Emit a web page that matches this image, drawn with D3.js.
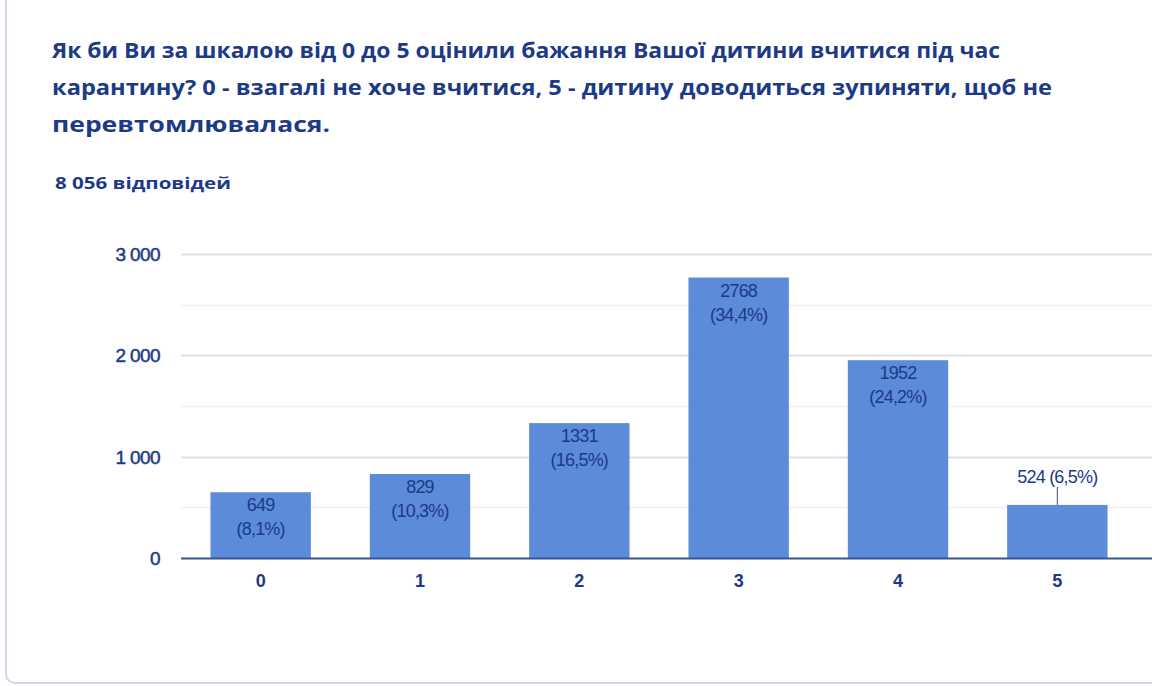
<!DOCTYPE html>
<html><head><meta charset="utf-8">
<script src="https://cdn.jsdelivr.net/npm/d3@7"></script>
<style>html,body{margin:0;padding:0;background:#fff;overflow:hidden}</style>
</head><body>
<svg id="c" width="1152" height="686"></svg>
<script>
const titleLines = [
  "Як би Ви за шкалою від 0 до 5 оцінили бажання Вашої дитини вчитися під час",
  "карантину? 0 - взагалі не хоче вчитися, 5 - дитину доводиться зупиняти, щоб не",
  "перевтомлювалася."
];
const subtitle = "8 056 відповідей";
const categories = ["0", "1", "2", "3", "4", "5"];
const counts = [649, 829, 1331, 2768, 1952, 524];
const percents = ["8,1%", "10,3%", "16,5%", "34,4%", "24,2%", "6,5%"];
const yTicks = [0, 1000, 2000, 3000];
const yTickLabels = ["0", "1 000", "2 000", "3 000"];

const navy = "#1d3a87";
const svg = d3.select("#c");
const tfont = "'Open Sans', 'Noto Sans', sans-serif";
const cfont = "'Liberation Sans', Arial, sans-serif";

// card
svg.append("rect").attr("x", 6).attr("y", -20).attr("width", 1200).attr("height", 703)
  .attr("rx", 9).attr("fill", "#fff").attr("stroke", "#cdd6ea").attr("stroke-width", 2);

// title
const tW = [948, 1000, 278];
titleLines.forEach((t, i) => {
  svg.append("text").attr("x", 52).attr("y", 58 + i * 37).text(t)
    .attr("font-family", tfont).attr("font-weight", 700).attr("font-size", 20.5)
    .attr("fill", navy).attr("textLength", tW[i]).attr("lengthAdjust", "spacingAndGlyphs");
});
svg.append("text").attr("x", 55).attr("y", 189).text(subtitle)
  .attr("font-family", tfont).attr("font-weight", 700).attr("font-size", 15.5)
  .attr("fill", navy).attr("textLength", 176).attr("lengthAdjust", "spacingAndGlyphs");

// scales
const x = d3.scaleBand().domain(categories).range([181, 1137]).paddingInner(0.37).paddingOuter(0.185);
const y = d3.scaleLinear().domain([0, 3000]).range([558, 254]);

const g = svg.append("g");
// gridlines (major + minor)
const grid = d3.range(500, 3001, 500);
g.selectAll(".grid").data(grid).join("line")
  .attr("x1", 181).attr("x2", 1152)
  .attr("y1", d => Math.round(y(d)) + 0.5).attr("y2", d => Math.round(y(d)) + 0.5)
  .attr("stroke", d => d % 1000 === 0 ? "#dde1e9" : "#eef0f4").attr("stroke-width", d => d % 1000 === 0 ? 2 : 1.5);

// y axis labels
const yAxis = d3.axisLeft(y).tickValues(yTicks).tickFormat((d, i) => yTickLabels[i]).tickSize(0).tickPadding(0);
const ya = svg.append("g").attr("transform", "translate(160,0)").call(yAxis);
ya.select(".domain").remove();
ya.selectAll("text").attr("font-family", cfont).attr("font-weight", 400).attr("font-size", 19)
  .attr("fill", navy).attr("stroke", navy).attr("stroke-width", 0.5).attr("dy", "0.35em")
  .attr("letter-spacing", -0.6);

// bars
g.selectAll(".bar").data(counts).join("rect")
  .attr("x", (d, i) => x(categories[i])).attr("width", x.bandwidth())
  .attr("y", d => y(d)).attr("height", d => y(0) - y(d)).attr("fill", "#5b8bd9");

// zero line
svg.append("line").attr("x1", 181).attr("x2", 1152).attr("y1", 558.5).attr("y2", 558.5)
  .attr("stroke", "#34559a").attr("stroke-width", 2);

// x axis
const xAxis = d3.axisBottom(x).tickSize(0).tickPadding(0);
const xa = svg.append("g").attr("transform", "translate(0,587)").call(xAxis);
xa.select(".domain").remove();
xa.selectAll("text").attr("font-family", cfont).attr("font-weight", 700).attr("font-size", 18)
  .attr("fill", navy).attr("dy", 0);

// labels
counts.forEach((d, i) => {
  const cx = x(categories[i]) + x.bandwidth() / 2;
  const top = y(d);
  const lab = (s, yy) => svg.append("text").attr("x", cx).attr("y", yy).attr("text-anchor", "middle").text(s)
      .attr("font-family", cfont).attr("font-size", 18).attr("fill", navy).attr("letter-spacing", -0.8);
  if (y(0) - top > 60) {
    lab(String(d), top + 19);
    lab("(" + percents[i] + ")", top + 43);
  } else {
    lab(d + " (" + percents[i] + ")", top - 22);
    svg.append("line").attr("x1", cx).attr("x2", cx).attr("y1", top - 18).attr("y2", top)
      .attr("stroke", "#3a4f7a").attr("stroke-width", 1);
  }
});
</script>
</body></html>
